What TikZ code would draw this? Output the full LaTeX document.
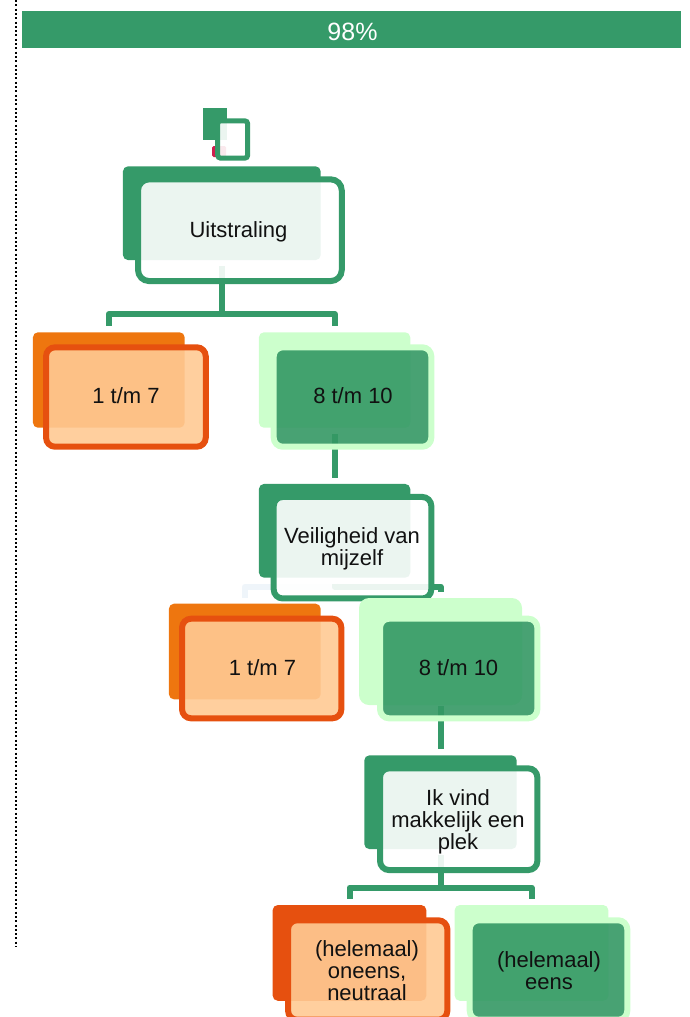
\documentclass[tikz,border=0pt]{standalone}
\usepackage{fontspec}
\setmainfont{Liberation Sans}
\usetikzlibrary{backgrounds}
\definecolor{mygreen}{HTML}{359A69}
\definecolor{frontgreen}{HTML}{349864}
\definecolor{mylight}{HTML}{CCFFCC}
\definecolor{myorange}{HTML}{EE760F}
\definecolor{myred}{HTML}{E6500F}
\definecolor{mypeach}{HTML}{FFCA94}
\definecolor{mypale}{HTML}{EFF5FA}
\definecolor{mycrimson}{HTML}{CF1F4F}
\definecolor{mytext}{HTML}{111111}
\tikzset{
  x=1pt,y=-1pt,
  boxbase/.style={inner sep=0pt,outer sep=0pt,rectangle},
  backbox/.style={boxbase,rounded corners=5pt},
  frontbox/.style={boxbase,rounded corners=9pt,line width=6pt,fill opacity=.9},
  backgreen/.style={backbox,fill=mygreen},
  frontwhite/.style={frontbox,draw=mygreen,fill=white},
  backorange/.style={backbox,fill=myorange},
  backred/.style={backbox,fill=myred},
  frontorange/.style={frontbox,draw=myred,fill=mypeach},
  backlight/.style={backbox,fill=mylight},
  frontdark/.style={frontbox,draw=mylight,fill=frontgreen},
  conn/.style={draw=mygreen,line width=6pt,line join=round,shorten <=6pt,shorten >=6pt},
  palecon/.style={conn,draw=mypale},
  lab/.style={inner sep=0pt,align=center,text=mytext,font=\fontsize{22}{22}\selectfont},
}
\begin{document}
\begin{tikzpicture}
\useasboundingbox (0,0) rectangle (690,1017);
% dotted rule and bar
\coordinate (ruletop) at (15.5,0);
\coordinate (ruleend) at (15.5,947);
\draw[line width=2pt,dash pattern=on 2pt off 2.3pt] (ruletop) -- (ruleend);
\node[boxbase,fill=mygreen,minimum width=659pt,minimum height=37pt] (bar) at (351.5,29.5) {};
\node[inner sep=0pt,text=white,font=\fontsize{25}{25}\selectfont] (bartext) at (352.5,31.5) {98\%};
% small icon
\node[boxbase,fill=mycrimson,rounded corners=1.5pt,minimum width=14pt,minimum height=11pt] (spot) at (219,151.5) {};
\node[boxbase,fill=mygreen,minimum width=24pt,minimum height=32.5pt] (iconb) at (215,124.2) {};
\node[boxbase,rounded corners=3pt,line width=5pt,draw=mygreen,fill=white,fill opacity=.9,minimum width=30pt,minimum height=37.4pt] (iconf) at (232.7,139.5) {};
% level 1
\node[backgreen,minimum width=197.7pt,minimum height=93.7pt] (ub) at (221.8,213.2) {};
\node[frontwhite,rounded corners=11pt,minimum width=203.7pt,minimum height=101.7pt] (uf) at (239.9,230.2) {};
\node[lab] (ut) at (238.5,232) {Uitstraling};
% level 2
\node[backorange,minimum width=151.7pt,minimum height=95.4pt] (oab) at (108.8,380) {};
\node[frontorange,minimum width=159.7pt,minimum height=99.4pt] (oaf) at (125.9,397) {};
\node[lab] (oat) at (126,395.5) {1 t/m 7};
\node[backlight,minimum width=151.3pt,minimum height=95.4pt] (gab) at (334.6,380) {};
\node[frontdark,minimum width=157.6pt,minimum height=99.4pt] (gaf) at (352.5,397) {};
\node[lab] (gat) at (353,395.5) {8 t/m 10};
% level 3
\node[backgreen,minimum width=151.3pt,minimum height=93.7pt] (vb) at (334.6,530.8) {};
\node[frontwhite,minimum width=157.6pt,minimum height=101.5pt] (vf) at (352.5,547.7) {};
\node[lab] (vt) at (352,549) {Veiligheid van\\mijzelf};
% level 4
\node[backorange,minimum width=151.7pt,minimum height=95.6pt] (obb) at (244.8,651.5) {};
\node[frontorange,minimum width=159.3pt,minimum height=99.6pt] (obf) at (261.7,668.5) {};
\node[lab] (obt) at (262.5,667.5) {1 t/m 7};
\node[backlight,rounded corners=10pt,minimum width=163pt,minimum height=107pt] (gbb) at (440.5,651.5) {};
\node[frontdark,minimum width=157.3pt,minimum height=99.6pt] (gbf) at (458.7,668.5) {};
\node[lab] (gbt) at (458.5,667.5) {8 t/m 10};
% level 5
\node[backgreen,minimum width=152.4pt,minimum height=93.7pt] (ib) at (440.5,802.2) {};
\node[frontwhite,minimum width=157.3pt,minimum height=101.7pt] (if) at (458.7,819.2) {};
\node[lab] (it) at (458,822) {Ik vind\\makkelijk een\\plek};
% level 6
\node[backred,minimum width=153.6pt,minimum height=95.7pt] (ocb) at (349.5,952.9) {};
\node[frontorange,minimum width=159.3pt,minimum height=99.4pt] (ocf) at (367.7,970) {};
\node[lab] (oct) at (367,971) {(helemaal)\\oneens,\\neutraal};
\node[backlight,minimum width=153.6pt,minimum height=95.7pt] (gcb) at (531.5,952.9) {};
\node[frontdark,minimum width=157.6pt,minimum height=99.4pt] (gcf) at (548.5,970) {};
\node[lab] (gct) at (549,971) {(helemaal)\\eens};
% connectors
\begin{scope}[on background layer]
\draw[conn] (ub.south) -- ++(0,54) -| (oab.north);
\draw[conn] (ub.south) -- ++(0,54) -| (gab.north);
\draw[conn] (gab.south) -- (vb.north);
\draw[palecon] (vb.south) -- ++(0,9) -| (obb.north);
\draw[conn] (vb.south) -- ++(0,9) -| (gbb.north);
\draw[conn,shorten <=1pt] (gbb.south) -- (ib.north);
\draw[conn] (ib.south) -- ++(0,38.5) -| (ocb.north);
\draw[conn] (ib.south) -- ++(0,38.5) -| (gcb.north);
\end{scope}
\end{tikzpicture}
\end{document}
